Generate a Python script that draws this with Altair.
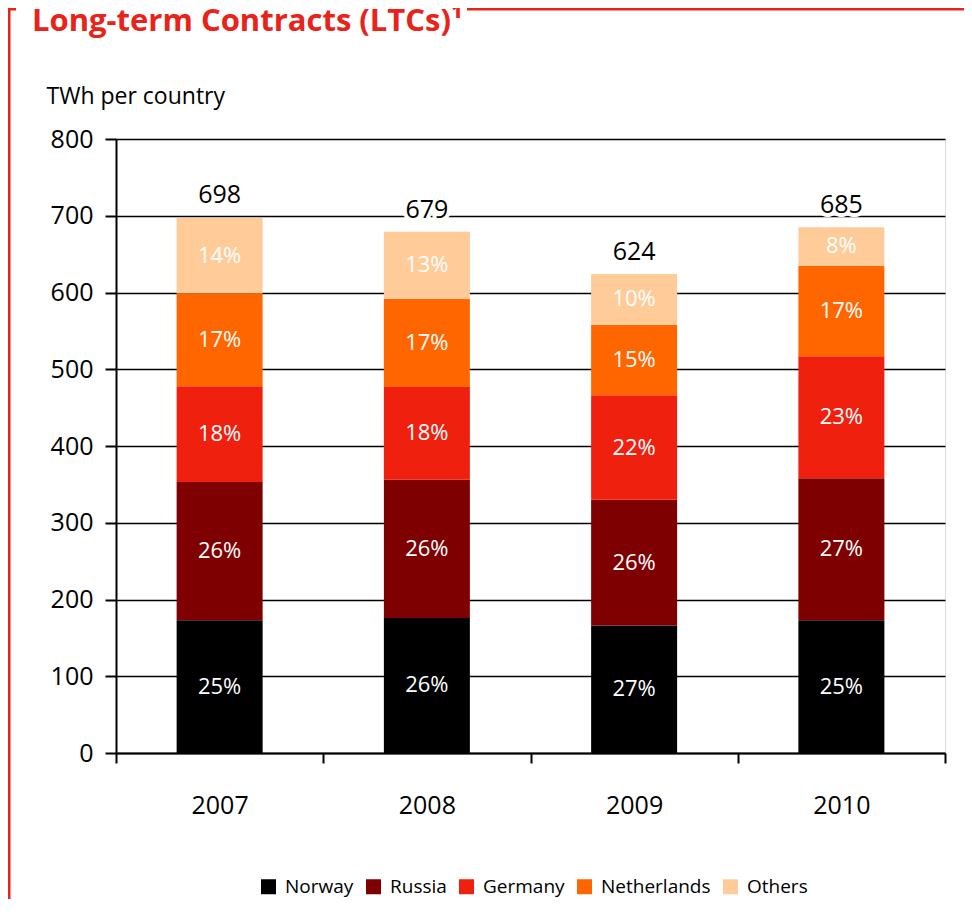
import altair as alt
import pandas as pd

years = ["2007", "2008", "2009", "2010"]
countries = ["Norway", "Russia", "Germany", "Netherlands", "Others"]
norway = [173, 176, 166, 173]
russia = [180, 180, 164, 185]
germany = [125, 121, 136, 159]
netherlands = [121, 115, 92, 118]
others = [98, 87, 66, 50]
pct_norway = ["25%", "26%", "27%", "25%"]
pct_russia = ["26%", "26%", "26%", "27%"]
pct_germany = ["18%", "18%", "22%", "23%"]
pct_netherlands = ["17%", "17%", "15%", "17%"]
pct_others = ["14%", "13%", "10%", "8%"]
totals = [698, 679, 624, 685]
colors = ["#000000", "#7f0000", "#f0200f", "#ff6600", "#ffcc99"]

title_text = "Long-term Contracts (LTCs)\u00b9"
y_title = "TWh per country"
FONT = "Open Sans"
RED = "#e8231a"

series = [norway, russia, germany, netherlands, others]
pcts = [pct_norway, pct_russia, pct_germany, pct_netherlands, pct_others]
rows = []
for yi, yr in enumerate(years):
    base = 0
    for ci, c in enumerate(countries):
        v = series[ci][yi]
        rows.append({"year": yr, "country": c, "order": ci, "lower": base,
                     "upper": base + v, "mid": base + v / 2, "pct": pcts[ci][yi]})
        base += v
df = pd.DataFrame(rows)
tot_df = pd.DataFrame({"year": years, "total": totals})

xscale = alt.Scale(domain=years, paddingInner=0, paddingOuter=0)
yscale = alt.Scale(domain=[0, 800], nice=False)

xaxis = alt.Axis(title=None, labelAngle=0, tickBand="extent", tickSize=10,
                 tickColor="black", tickWidth=2, domainColor="black", domainWidth=2,
                 labelFontSize=25, labelFont=FONT, labelColor="black", labelPadding=30,
                 grid=False)
yaxis = alt.Axis(title=y_title, titleAngle=0, titleAlign="left", titleBaseline="alphabetic",
                 titleX=-70, titleY=-36, titleFontSize=23, titleFont=FONT,
                 titleFontWeight="normal", titleColor="black",
                 values=list(range(0, 801, 100)), tickSize=11, tickColor="black", tickWidth=2,
                 domainColor="black", domainWidth=2, labelFontSize=25, labelFont=FONT,
                 labelColor="black", labelPadding=12, grid=True, gridColor="black",
                 gridWidth=1.5, gridOpacity=1)

bars = alt.Chart(df).mark_bar(size=86).encode(
    x=alt.X("year:N", scale=xscale, axis=xaxis),
    y=alt.Y("lower:Q", scale=yscale, axis=yaxis),
    y2="upper:Q",
    color=alt.Color("country:N", scale=alt.Scale(domain=countries, range=colors),
                    legend=alt.Legend(title=None, orient="none", direction="horizontal",
                                      legendX=143, legendY=738, symbolType="square",
                                      symbolSize=225, symbolStrokeWidth=0, symbolOpacity=1,
                                      labelFontSize=19, labelFont=FONT, labelColor="black",
                                      labelOffset=7, columnPadding=10, padding=0)),
)

pct_text = alt.Chart(df).mark_text(color="white", fontSize=22, font=FONT, baseline="middle").encode(
    x=alt.X("year:N", scale=xscale),
    y=alt.Y("mid:Q", scale=yscale),
    text="pct:N",
)

halo = alt.Chart(tot_df).mark_text(color="white", stroke="white", strokeWidth=8, fontSize=25,
                                   font=FONT, baseline="alphabetic", dy=-14).encode(
    x=alt.X("year:N", scale=xscale),
    y=alt.Y("total:Q", scale=yscale),
    text="total:Q",
)
tot_text = alt.Chart(tot_df).mark_text(color="black", fontSize=25, font=FONT,
                                       baseline="alphabetic", dy=-14).encode(
    x=alt.X("year:N", scale=xscale),
    y=alt.Y("total:Q", scale=yscale),
    text="total:Q",
)

one = pd.DataFrame({"t": [title_text]})
title_mark = alt.Chart(one).mark_text(color=RED, fontSize=31, fontWeight="bold",
                                      font=FONT, align="left", baseline="alphabetic").encode(
    x=alt.value(-84), y=alt.value(-108), text="t:N")

frame_v = alt.Chart(one).mark_rule(color=RED, strokeWidth=3).encode(
    x=alt.value(-107), y=alt.value(-131), y2=alt.value(780))
frame_hook = alt.Chart(one).mark_rule(color=RED, strokeWidth=3).encode(
    x=alt.value(-108), x2=alt.value(-100), y=alt.value(-130))
frame_top = alt.Chart(one).mark_rule(color=RED, strokeWidth=3).encode(
    x=alt.value(351), x2=alt.value(860), y=alt.value(-130))

chart = alt.layer(bars, pct_text, halo, tot_text, title_mark, frame_v, frame_hook, frame_top).properties(
    width=829, height=614,
    autosize=alt.AutoSizeParams(type="none"),
    padding={"left": 108, "top": 131, "right": 19, "bottom": 146},
).configure_view(stroke="black", strokeWidth=2).configure(background="white")

chart.save("out.html", embed_options={"renderer": "svg", "actions": False})
